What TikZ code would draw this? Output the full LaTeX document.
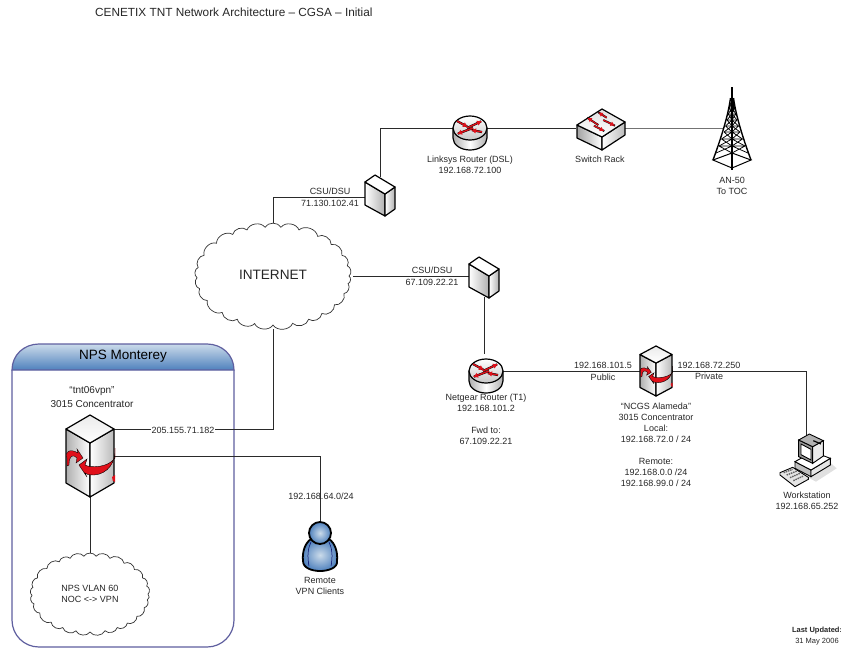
\documentclass[tikz,border=0pt]{standalone}
\usepackage{fontspec}
\setmainfont{Liberation Sans}
\usetikzlibrary{arrows.meta,shapes.geometric}
\definecolor{txt}{HTML}{262626}
\definecolor{wire}{HTML}{2A2A2A}
\definecolor{panel}{HTML}{5F5F9F}
\definecolor{headtop}{HTML}{CBDBEA}
\definecolor{headbot}{HTML}{4F81BD}
\definecolor{icong}{HTML}{8C8C8C}
\definecolor{arrowred}{HTML}{E0101A}
\newcommand{\cloudoutline}[4]{\draw[cloudline] ({#1+#3},#2) \foreach \a in {9,21,36,50,62,75,90,104,118,132,150,165,178,190,205,222,238,250,264,276,290,306,320,335,348,360} { to[bend left=62] ({#1+#3*cos(\a)},{#2+#4*sin(\a)}) } -- cycle;}
\tikzset{
  lbl/.style={font=\fontsize{9}{11}\selectfont,text=txt,align=center,inner sep=0pt},
  lblw/.style={lbl,fill=white,inner xsep=1pt,inner ysep=0.5pt},
  port/.style={inner sep=0pt,outer sep=0pt,minimum width=#1},
  link/.style={draw=wire,line width=1pt},
  cloudline/.style={draw=black!80,line width=.7pt,fill=white},
  outline/.style={draw=black,line width=1.2pt,line join=round},
  redback/.style={draw=black,line width=2.2pt},
  redtip/.style={draw=arrowred,line width=1.4pt,-{Latex[length=5pt,width=5.5pt]}},
  routericon/.pic={
    \path[outline,left color=icong!70,right color=icong!70,middle color=white]
      (-17,0) -- (-17,10) .. controls (-17,17) and (-9,22) .. (0,22) .. controls (9,22) and (17,17) .. (17,10) -- (17,0) -- cycle;
    \path[outline,top color=white,bottom color=black!22] (0,0) circle[x radius=17,y radius=12];
    \draw[redback,shorten >=1pt] (-13,-7) -- (-2,-1); \draw[redtip] (-13,-7) -- (-2,-1);
    \draw[redback,shorten >=1pt] (-3,0) -- (12,-7); \draw[redtip] (-3,0) -- (12,-7);
    \draw[redback,shorten >=1pt] (3,0) -- (-13,6); \draw[redtip] (3,0) -- (-13,6);
    \draw[redback,shorten >=1pt] (12,4) -- (1,2); \draw[redtip] (12,4) -- (1,2);
  },
  switchicon/.pic={
    \path[outline,left color=icong!80,right color=white] (-23,-3) -- (2,9) -- (2,22) -- (-23,10) -- cycle;
    \path[outline,left color=white,right color=icong!60] (2,9) -- (25,-6) -- (25,7) -- (2,22) -- cycle;
    \path[outline,top color=black!12,bottom color=white] (2,-19) -- (25,-6) -- (2,9) -- (-23,-3) -- cycle;
    \foreach \u/\v/\w/\z in {6.7/-10.3/-1.7/-15.7, -1.7/-3/-12.7/-10.3, 3.3/-8/15/-2.3, -6/-2.3/4.3/3}{
      \draw[black,line width=1.9pt] (\u,\v) -- (\w,\z);
      \draw[draw=arrowred,line width=1.2pt,-{Latex[length=4.5pt,width=5pt]}] (\u,\v) -- (\w,\z);
    }
  },
  csuicon/.pic={
    \path[outline,left color=white,right color=icong!70] (-15,-15) -- (5,-3) -- (5,19) -- (-15,8) -- cycle;
    \path[outline,left color=white,right color=icong!70] (5,-3) -- (15,-10) -- (15,12) -- (5,19) -- cycle;
    \path[outline,fill=white] (-5,-22) -- (15,-10) -- (5,-3) -- (-15,-15) -- cycle;
  },
  concicon/.pic={
    \path[outline,left color=icong!70,right color=white] (-24,-27) -- (0,-13) -- (0,41) -- (-24,27) -- cycle;
    \path[outline,left color=white,right color=icong!60] (0,-13) -- (24,-27) -- (24,27) -- (0,41) -- cycle;
    \path[outline,top color=black!8,bottom color=white] (0,-41) -- (24,-27) -- (0,-13) -- (-24,-27) -- cycle;
    \fill[arrowred,draw=black,line width=.4pt] (25,-8) .. controls (26,6) and (18,18) .. (4,19)
      .. controls (-2,19) and (-4,18) .. (-5,17) -- (-3,21) -- (-11,9) -- (-3,3) -- (-5,9)
      .. controls (0,12) and (18,12) .. (25,2) -- cycle;
    \fill[arrowred,draw=black,line width=.3pt] (-23,2) .. controls (-26,-4) and (-20,-8) .. (-12,-3) -- (-13,-7) -- (-7,2) -- (-14,7)
      -- (-13,2) .. controls (-17,-2) and (-21,-1) .. (-21,9) -- (-23,10) -- cycle;
    \fill[arrowred] (22,21) -- (25,19) -- (25,26) .. controls (23,26) and (22,24) .. (22,21) -- cycle;
  },
  towericon/.pic={
    \draw[black,line width=1.4pt] (-19,31) .. controls (-12,12) and (-4,-12) .. (-1.5,-31);
    \draw[black,line width=1.4pt] (19,31) .. controls (12,12) and (4,-12) .. (1.5,-31);
    \draw[black,line width=1.2pt] (0,-42) -- (0,41);
    \draw[black,line width=3pt] (0,-31) -- (0,-18);
    \draw[black,line width=1pt] (-19,31) -- (0,24) -- (19,31) -- (0,39) -- cycle;
    \foreach \yt/\wt/\yb/\wb in {17/13/24/16,10/10.5/17/13,3/8/10/10.5,-3/6.5/3/8,-9/5/-3/6.5,-15/3.8/-9/5,-21/2.8/-15/3.8,-26/2/-21/2.8}{
      \draw[black,line width=.75pt] (-\wt,\yt) -- (\wt,\yt) (-\wt,\yt) -- (0,\yb) -- (\wt,\yt) (-\wb,\yb) -- (0,\yt) -- (\wb,\yb);
    }
  },
  personicon/.pic={
    \path[draw=black,line width=1.8pt,line join=round,inner color=headtop,outer color=headbot]
      (-9,-7) .. controls (-15,-3) and (-18,6) .. (-17,15) .. controls (-17,22) and (-8,25) .. (0,25)
      .. controls (8,25) and (18,22) .. (17,15) .. controls (18,6) and (15,-3) .. (9,-7) -- cycle;
    \draw[draw=black!60!blue,line width=.5pt] (-11,20) .. controls (-13,10) and (-12,2) .. (-9,-4) (11,20) .. controls (13,10) and (12,2) .. (9,-4);
    \path[draw=black,line width=1.8pt,inner color=headtop,outer color=headbot] (0,-13) circle[radius=11];
  },
  workicon/.pic={
    \begin{scope}[x=.3333pt,y=-.3333pt,shift={(-170,-120)}]
      \fill[black!12] (175,172) -- (245,130) -- (262,145) -- (200,185) -- cycle;
      \path[draw=black,line width=.9pt,fill=black!25] (137,125) -- (185,150) -- (185,170) -- (137,145) -- cycle;
      \path[draw=black,line width=.9pt,fill=black!10] (185,150) -- (243,115) -- (243,135) -- (185,170) -- cycle;
      \path[draw=black,line width=.9pt,fill=white] (137,125) -- (190,95) -- (243,115) -- (185,150) -- cycle;
      \path[draw=black,line width=.9pt,fill=black!40] (148,60) -- (190,80) -- (190,130) -- (148,110) -- cycle;
      \path[draw=black,line width=.9pt,fill=white] (155,72) -- (185,88) -- (185,120) -- (155,104) -- cycle;
      \path[draw=black,line width=.9pt,fill=black!8] (190,80) -- (222,62) -- (222,108) -- (190,130) -- cycle;
      \path[draw=black,line width=.9pt,fill=black!30] (148,60) -- (180,42) -- (222,62) -- (190,80) -- cycle;
      \draw[black,line width=1.2pt] (192,62) -- (215,72);
      \path[draw=black,line width=.9pt,fill=black!10] (92,158) -- (130,142) -- (177,172) -- (177,178) -- (137,200) -- (92,165) -- cycle;
      \draw[black!60,line width=1.4pt,dash pattern=on 1.5pt off .8pt] (103,158) -- (130,148) (112,165) -- (143,153) (122,173) -- (152,160) (132,182) -- (162,168);
    \end{scope}
  }
}
\begin{document}
\begin{tikzpicture}[x=1pt,y=-1pt]
\useasboundingbox (0,0) rectangle (841,649);
% panel
\path[draw=panel,line width=1.2pt,fill=white] (12,370) -- (12,620) .. controls (12,635) and (24,647) .. (39,647) -- (207,647) .. controls (222,647) and (234,635) .. (234,620) -- (234,370);
\path[draw=panel,line width=1.2pt,top color=headtop,bottom color=headbot] (12,370) .. controls (12,355) and (24,344) .. (39,344) -- (207,344) .. controls (222,344) and (234,355) .. (234,370) -- cycle;
\node[lbl,font=\fontsize{13.5}{15}\selectfont,text=black] (npstitle) at (123,356) {NPS Monterey};

% anchors
\node[port=160pt,minimum height=106pt] (internet) at (273,276) {};
\node[port=124pt,minimum height=82pt] (vlan) at (90,594) {};
\node[port=34pt,minimum height=34pt] (r1) at (470,128) {};
\node[port=49pt,minimum height=40pt] (sw) at (600,128) {};
\node[port=18pt,minimum height=83pt] (tower) at (732,128) {};
\node[port=30pt,minimum height=41pt] (csua) at (380,197) {};
\node[port=30pt,minimum height=41pt] (csub) at (484,276) {};
\node[port=34pt,minimum height=34pt] (r2) at (486,371) {};
\node[port=32pt,minimum height=50pt] (conb) at (656,371) {};
\node[port=50pt,minimum height=46pt] (wks) at (806,460) {};
\node[port=48pt,minimum height=82pt] (cona) at (90,456) {};
\node[port=35pt,minimum height=49pt] (person) at (320,546) {};
\coordinate (conap) at (114,429);

% connectors
\draw[link] (internet.north) |- (csua.west);
\draw[link] (csua.north) |- (r1.west);
\draw[link] (r1.east) -- (sw.west);
\draw[link,draw=black!55] (sw.east) -- (tower.west);
\draw[link] (internet.east) -- (csub.west);
\draw[link] (csub.south) -- (csub.south |- r2.north);
\draw[link] (r2.east) -- (conb.west);
\draw[link] (conb.east) -| (wks.north);
\draw[link] (conap) -| (internet.south);
\draw[link] (cona.east) -| (person.north);
\draw[link] (cona.south) -- (vlan.north);

% clouds
\cloudoutline{273}{276}{76}{49}
\cloudoutline{90}{594}{58}{38}

% icons
\pic at (r1) {routericon};
\pic at (r2) {routericon};
\pic at (sw) {switchicon};
\pic at (csua) {csuicon};
\pic at (484,279) {csuicon};
\pic at (cona) {concicon};
\pic[xscale=.667,yscale=.61] at (conb) {concicon};
\pic at (732,129) {towericon};
\pic at (person) {personicon};
\pic at (wks) {workicon};

% labels
\node[lbl,anchor=west,font=\fontsize{11.8}{14}\selectfont] (title) at (95,12) {CENETIX TNT Network Architecture – CGSA – Initial};
\node[lbl,font=\fontsize{13.6}{15}\selectfont] (inetlbl) at (273,275) {INTERNET};
\node[lbl] (vlanlbl) at (90,593.5) {NPS VLAN 60\\NOC <-> VPN};
\node[lbl] (l1) at (470,164.5) {Linksys Router (DSL)\\192.168.72.100};
\node[lbl] (l2) at (600,159) {Switch Rack};
\node[lbl] (l3) at (732,185.5) {AN-50\\To TOC};
\node[lbl] (l4) at (330,191) {CSU/DSU};
\node[lbl] (l5) at (330,203) {71.130.102.41};
\node[lbl] (l6) at (432,270) {CSU/DSU};
\node[lbl] (l7) at (432,282) {67.109.22.21};
\node[lbl] (l8) at (486,419) {Netgear Router (T1)\\192.168.101.2\\[11pt]Fwd to:\\67.109.22.21};
\node[lbl] (l9) at (603,365.5) {192.168.101.5};
\node[lbl] (l10) at (603,377) {Public};
\node[lbl] (l11) at (709,365) {192.168.72.250};
\node[lbl] (l12) at (709,376) {Private};
\node[lbl] (l13) at (656,444.5) {“NCGS Alameda”\\3015 Concentrator\\Local:\\192.168.72.0 / 24\\[11pt]Remote:\\192.168.0.0 /24\\192.168.99.0 / 24};
\node[lbl] (l14) at (807,501) {Workstation\\192.168.65.252};
\node[lbl,font=\fontsize{10}{14}\selectfont] (l15) at (92,397.5) {“tnt06vpn”\\3015 Concentrator};
\node[lblw] (l16) at (183,430) {205.155.71.182};
\node[lbl] (l17) at (321,496) {192.168.64.0/24};
\node[lbl] (l18) at (320,585.5) {Remote\\VPN Clients};
\node[lbl,font=\fontsize{7.5}{11}\selectfont] (l19) at (817,636.5) {\textbf{Last Updated:}\\31 May 2006};
\end{tikzpicture}
\end{document}
